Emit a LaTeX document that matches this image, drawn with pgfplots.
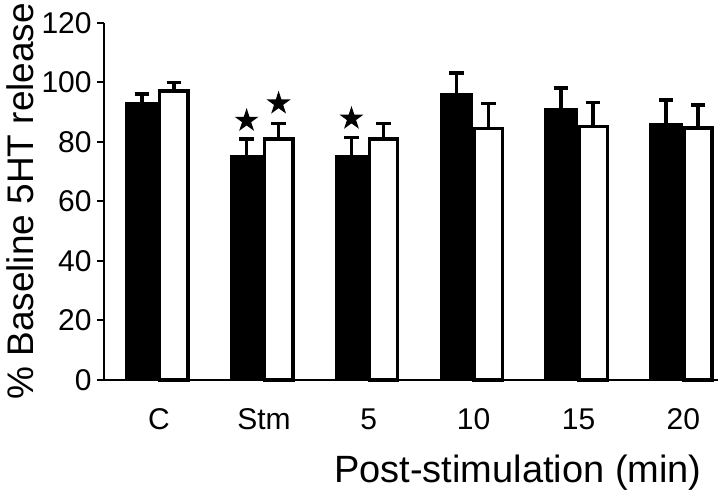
\documentclass[border=0pt]{standalone}
\usepackage{fontspec}
\setmainfont{Liberation Sans}
\usepackage{pgfplots}
\pgfplotsset{compat=1.18}
\pgfdeclareplotmark{fstar}{%
  \pgfpathmoveto{\pgfqpointpolar{90}{\pgfplotmarksize}}%
  \pgfpathlineto{\pgfqpointpolar{126}{0.382\pgfplotmarksize}}%
  \pgfpathlineto{\pgfqpointpolar{162}{\pgfplotmarksize}}%
  \pgfpathlineto{\pgfqpointpolar{198}{0.382\pgfplotmarksize}}%
  \pgfpathlineto{\pgfqpointpolar{234}{\pgfplotmarksize}}%
  \pgfpathlineto{\pgfqpointpolar{270}{0.382\pgfplotmarksize}}%
  \pgfpathlineto{\pgfqpointpolar{306}{\pgfplotmarksize}}%
  \pgfpathlineto{\pgfqpointpolar{342}{0.382\pgfplotmarksize}}%
  \pgfpathlineto{\pgfqpointpolar{18}{\pgfplotmarksize}}%
  \pgfpathlineto{\pgfqpointpolar{54}{0.382\pgfplotmarksize}}%
  \pgfpathclose\pgfusepathqfill}
\begin{document}
\begin{tikzpicture}
\begin{axis}[name=ax, scale only axis, width=307pt, height=178.65pt,
  xmin=-0.525, xmax=5.33, ymin=0, ymax=120,
  axis x line=bottom, axis y line=left,
  axis line style={-, line width=1pt, black},
  ytick={0,20,...,120}, yticklabels={0,20,40,60,80,100,120},
  xtick={0,...,5}, xticklabels={C,Stm,5,10,15,20},
  x tick style={draw=none},
  y tick style={line width=1pt, black},
  tick align=outside, major tick length=3.5pt,
  y tick label style={font=\fontsize{15}{18}\selectfont, anchor=east, inner sep=0pt, xshift=-2.5pt},
  x tick label style={font=\fontsize{15}{18}\selectfont, anchor=north, inner sep=0pt, text height=10.8pt, yshift=-10pt},
  xlabel={Post-stimulation (min)}, ylabel={\% Baseline 5HT release},
  xlabel style={at={(axis description cs:0.97394,-0.28548)}, anchor=base east, inner sep=0pt, font=\fontsize{19}{22}\selectfont},
  ylabel style={at={(axis description cs:-0.1156,0.5)}, anchor=base, inner sep=0pt, font=\fontsize{18.5}{22}\selectfont},
  clip=false,
]
\addplot[ybar, bar width=0.31, bar shift=0pt, fill=black, draw=black, line width=0.5pt,
  error bars/.cd, y dir=plus, y explicit, error mark=|,
  error bar style={line width=1.8pt, black},
  error mark options={line width=1.8pt, mark size=3.6pt, black}]
  coordinates {(-0.165,93.3) +- (0,2.7) (0.835,75.5) +- (0,5.4) (1.835,75.5) +- (0,6.0)
               (2.835,96.1) +- (0,7.1) (3.835,91.1) +- (0,6.9) (4.835,86.0) +- (0,8.0)};
\addplot[ybar, bar width=0.27, bar shift=0pt, fill=white, draw=black, line width=1.75pt,
  error bars/.cd, y dir=plus, y explicit, error mark=|,
  error bar style={line width=1.8pt, black},
  error mark options={line width=1.8pt, mark size=3.6pt, black}]
  coordinates {(0.14,97.0) +- (0,2.9) (1.14,80.9) +- (0,5.3) (2.14,80.9) +- (0,5.3)
               (3.14,84.5) +- (0,8.4) (4.14,85.2) +- (0,8.0) (5.14,84.7) +- (0,7.6)};
\addplot[only marks, mark=fstar, mark size=6.3pt, black]
  coordinates {(0.835,87.1) (1.14,92.9) (1.835,87.8)};
\end{axis}
\pgfresetboundingbox
\path[use as bounding box] ([xshift=-52pt,yshift=-55.5pt]ax.south west) rectangle ([xshift=1pt,yshift=11.35pt]ax.north east);
\end{tikzpicture}
\end{document}
